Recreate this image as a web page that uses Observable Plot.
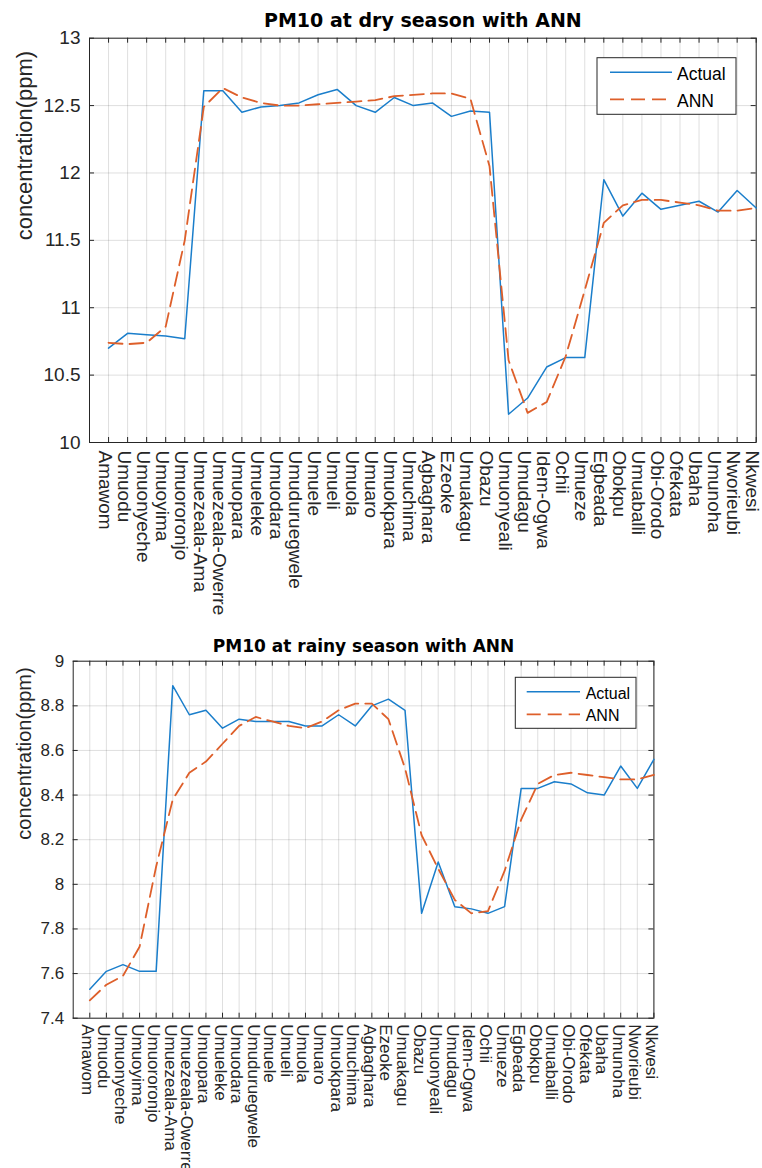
<!DOCTYPE html>
<html>
<head>
<meta charset="utf-8">
<script src="https://cdn.jsdelivr.net/npm/d3@7"></script>
<script src="https://cdn.jsdelivr.net/npm/@observablehq/plot@0.6"></script>
<style>
  body { margin: 0; background: #fff; }
  #wrap { position: relative; width: 762px; height: 1168px; overflow: hidden; }
  .panel { position: relative; width: 762px; }
  .panel svg { display: block; }
  .legend { position: absolute; left: 0; top: 0; pointer-events: none; }
</style>
</head>
<body>
<div id="wrap"></div>
<script>
// Sampling sites along the x axis
const sites = [
  "Amawom", "Umuodu", "Umuonyeche", "Umuoyima", "Umuororonjo", "Umuezeala-Ama",
  "Umuezeala-Owerre", "Umuopara", "Umueleke", "Umuodara", "Umuduruegwele", "Umuele",
  "Umueli", "Umuola", "Umuaro", "Umuokpara", "Umuchima", "Agbaghara", "Ezeoke",
  "Umuakagu", "Obazu", "Umuonyeali", "Umudagu", "Idem-Ogwa", "Ochii", "Umueze",
  "Egbeada", "Obokpu", "Umuaballi", "Obi-Orodo", "Ofekata", "Ubaha", "Umunoha",
  "Nworieubi", "Nkwesi"
];

// PM10 concentration (ppm), dry season
const dryActual = [
  10.70, 10.81, 10.80, 10.79, 10.77, 12.61, 12.61, 12.45, 12.49, 12.50, 12.52, 12.58,
  12.62, 12.50, 12.45, 12.56, 12.50, 12.52, 12.42, 12.46, 12.45, 10.21, 10.33, 10.56,
  10.63, 10.63, 11.95, 11.68, 11.85, 11.73, 11.76, 11.79, 11.71, 11.87, 11.74
];
const dryANN = [
  10.74, 10.73, 10.74, 10.86, 11.50, 12.49, 12.63, 12.56, 12.52, 12.50, 12.50, 12.51,
  12.52, 12.53, 12.54, 12.57, 12.58, 12.59, 12.59, 12.55, 12.05, 10.61, 10.22, 10.30,
  10.64, 11.13, 11.63, 11.76, 11.80, 11.80, 11.78, 11.76, 11.72, 11.72, 11.74
];

// PM10 concentration (ppm), rainy season
const rainyActual = [
  7.53, 7.61, 7.64, 7.61, 7.61, 8.89, 8.76, 8.78, 8.70, 8.74, 8.73, 8.73,
  8.73, 8.71, 8.71, 8.76, 8.71, 8.80, 8.83, 8.78, 7.87, 8.10, 7.90, 7.89,
  7.87, 7.90, 8.43, 8.43, 8.46, 8.45, 8.41, 8.40, 8.53, 8.43, 8.56
];
const rainyANN = [
  7.48, 7.55, 7.59, 7.72, 8.08, 8.38, 8.50, 8.55, 8.63, 8.71, 8.75, 8.73,
  8.71, 8.70, 8.73, 8.78, 8.81, 8.81, 8.74, 8.52, 8.22, 8.07, 7.93, 7.87,
  7.88, 8.06, 8.29, 8.45, 8.49, 8.50, 8.49, 8.48, 8.47, 8.47, 8.49
];

const dryTicks = [10, 10.5, 11, 11.5, 12, 12.5, 13];
const rainyTicks = [7.4, 7.6, 7.8, 8, 8.2, 8.4, 8.6, 8.8, 9];
const seriesNames = ["Actual", "ANN"];

const BLUE = "#1a7ecb";
const ORANGE = "#de5f2a";
const AXIS = "#262626";
const SANS = "'Liberation Sans', Arial, Helvetica, sans-serif";
const WIDE_BOLD = "'DejaVu Sans', 'Liberation Sans', sans-serif";

function panel(cfg) {
  const W = 762;
  const idx = d3.range(1, sites.length + 1);
  const [y0, y1] = cfg.yDomain;
  const innerH = cfg.height - cfg.mt - cfg.mb;
  const innerW = W - cfg.ml - cfg.mr;
  const tickLenY = (y1 - y0) * 5 / innerH;   // 5px inward tick, in data units
  const tickLenX = sites.length * 5 / innerW;
  const fmt = d => String(+d.toFixed(1));

  const chart = Plot.plot({
    width: W,
    height: cfg.height,
    marginLeft: cfg.ml,
    marginRight: cfg.mr,
    marginTop: cfg.mt,
    marginBottom: cfg.mb,
    style: { fontFamily: SANS, background: "white", color: "#262626", overflow: "visible" },
    x: { domain: [0, sites.length], axis: null },
    y: { domain: cfg.yDomain, axis: null },
    marks: [
      // grid
      Plot.ruleX(idx, { x: d => d, stroke: AXIS, strokeOpacity: 0.15 }),
      Plot.ruleY(cfg.yTicks, { y: d => d, stroke: AXIS, strokeOpacity: 0.15 }),
      // inward ticks on all four sides
      Plot.ruleX(idx, { x: d => d, y1: () => y0, y2: () => y0 + tickLenY, stroke: AXIS }),
      Plot.ruleX(idx, { x: d => d, y1: () => y1, y2: () => y1 - tickLenY, stroke: AXIS }),
      Plot.ruleY(cfg.yTicks, { y: d => d, x1: () => 0, x2: () => tickLenX, stroke: AXIS }),
      Plot.ruleY(cfg.yTicks, { y: d => d, x1: () => sites.length, x2: () => sites.length - tickLenX, stroke: AXIS }),
      Plot.frame({ stroke: AXIS }),
      // series
      Plot.line(cfg.actual, { x: (d, i) => i + 1, y: d => d, stroke: BLUE, strokeWidth: 1.5 }),
      Plot.line(cfg.ann, { x: (d, i) => i + 1, y: d => d, stroke: ORANGE, strokeWidth: 1.8, strokeDasharray: "14,7" }),
      // y tick labels
      Plot.axisY({ ticks: cfg.yTicks, tickSize: 0, tickPadding: 9, tickFormat: fmt, fontSize: cfg.tickFont, fill: "#262626" }),
      // x tick labels (site names, rotated)
      Plot.text(sites, {
        x: (d, i) => i + 1, text: d => d, frameAnchor: "bottom", rotate: 90,
        textAnchor: "start", dy: cfg.xLabelDy, dx: cfg.xLabelDx, fontSize: cfg.tickFont, fill: "#262626"
      }),
      // y axis title
      Plot.text(["concentration(ppm)"], {
        text: d => d, frameAnchor: "left", rotate: -90, dx: cfg.yLabelDx,
        fontSize: cfg.yLabelFont, fill: "#262626"
      }),
      // chart title
      Plot.text([cfg.title], {
        text: d => d, frameAnchor: "top", lineAnchor: "bottom", dy: cfg.titleDy,
        fontSize: cfg.titleFont, fontWeight: "bold", fontFamily: WIDE_BOLD, fill: "#000"
      })
    ]
  });

  const div = document.createElement("div");
  div.className = "panel";
  div.style.height = cfg.height + "px";
  div.appendChild(chart);

  // legend box in the upper-right corner of the axes
  const L = cfg.legend;
  const frameRight = W - cfg.mr;
  const bx = frameRight - L.right - L.w;
  const by = cfg.mt + L.top;
  const svg = d3.select(div).append("svg")
    .attr("class", "legend").attr("width", W).attr("height", cfg.height);
  svg.append("rect")
    .attr("x", bx).attr("y", by).attr("width", L.w).attr("height", L.h)
    .attr("fill", "white").attr("stroke", AXIS).attr("stroke-width", 1);
  const styles = [
    { stroke: BLUE, width: 1.5, dash: null },
    { stroke: ORANGE, width: 1.8, dash: "14,7" }
  ];
  seriesNames.forEach((name, k) => {
    const ly = by + L.rows[k];
    svg.append("line")
      .attr("x1", bx + L.lineX0).attr("x2", bx + L.lineX1)
      .attr("y1", ly).attr("y2", ly)
      .attr("stroke", styles[k].stroke).attr("stroke-width", styles[k].width)
      .attr("stroke-dasharray", styles[k].dash);
    svg.append("text")
      .attr("x", bx + L.textX).attr("y", ly + L.baseline)
      .attr("font-family", SANS).attr("font-size", L.font).attr("fill", "#000")
      .text(name);
  });
  return div;
}

const wrap = document.getElementById("wrap");

wrap.appendChild(panel({
  title: "PM10 at dry season with ANN",
  actual: dryActual, ann: dryANN,
  yDomain: [10, 13], yTicks: dryTicks,
  height: 625, ml: 89, mr: 6.3, mt: 37.7, mb: 183,
  tickFont: 19, yLabelFont: 22, titleFont: 19, titleDy: -11,
  xLabelDy: 8, xLabelDx: -10, yLabelDx: -65,
  legend: { w: 139, h: 56.6, right: 19.7, top: 20, lineX0: 13, lineX1: 75, textX: 80,
            rows: [14.6, 41.6], baseline: 8, font: 17.5 }
}));

wrap.appendChild(panel({
  title: "PM10 at rainy season with ANN",
  actual: rainyActual, ann: rainyANN,
  yDomain: [7.4, 9], yTicks: rainyTicks,
  height: 543, ml: 72.7, mr: 108.6, mt: 35.7, mb: 150.3,
  tickFont: 17, yLabelFont: 20, titleFont: 17, titleDy: -9,
  xLabelDy: 6, xLabelDx: -8, yLabelDx: -49,
  legend: { w: 120.7, h: 51, right: 17.4, top: 16.6, lineX0: 11.4, lineX1: 64.7, textX: 70.4,
            rows: [14.4, 37], baseline: 7, font: 16 }
}));
</script>
</body>
</html>
